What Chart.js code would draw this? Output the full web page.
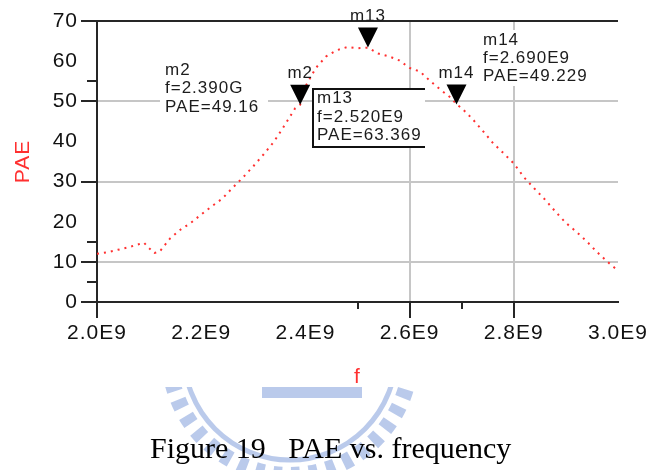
<!DOCTYPE html>
<html>
<head>
<meta charset="utf-8">
<script src="https://cdn.jsdelivr.net/npm/chart.js@4.4.1/dist/chart.umd.min.js"></script>
<style>
  html, body { margin: 0; padding: 0; background: #fff; }
  #wrap { position: relative; width: 652px; height: 470px; }
  #caption {
    position: absolute; left: 150px; top: 433px;
    font: 30px/30px "Liberation Serif", "Times New Roman", serif;
    color: #000; white-space: pre;
  }
</style>
</head>
<body>
<div id="wrap">
  <canvas id="c" width="652" height="470"></canvas>
  <div id="caption">Figure 19   PAE vs. frequency</div>
</div>
<script>
// frequency in units of 1E9
const freq = [2.00, 2.02, 2.04, 2.06, 2.08, 2.09, 2.10, 2.11, 2.12, 2.14, 2.16, 2.18, 2.20, 2.22, 2.24,
  2.26, 2.28, 2.30, 2.32, 2.34, 2.36, 2.38, 2.39, 2.40, 2.42, 2.44, 2.46, 2.48, 2.50, 2.52, 2.54,
  2.56, 2.58, 2.60, 2.62, 2.64, 2.66, 2.68, 2.69, 2.70, 2.72, 2.74, 2.76, 2.78, 2.80, 2.82, 2.84,
  2.86, 2.88, 2.90, 2.92, 2.94, 2.96, 2.98, 3.00];
const pae = [12.0, 12.4, 13.0, 13.6, 14.4, 14.8, 13.4, 12.2, 12.5, 15.8, 18.0, 19.7, 21.8, 23.8, 25.7,
  28.4, 31.0, 33.8, 36.8, 40.0, 44.0, 48.2, 49.16, 53.7, 58.3, 61.2, 62.7, 63.5, 63.2, 63.37, 61.9,
  61.2, 60.2, 58.3, 57.4, 55.0, 52.8, 50.8, 49.23, 48.3, 45.7, 42.7, 39.6, 37.1, 34.5, 31.0, 28.2,
  25.5, 22.5, 19.7, 17.5, 15.1, 12.4, 10.0, 7.8];

const markerNames = ["m2", "m13", "m14"];
const markerFreq = [2.39, 2.52, 2.69];
const markerPae = [49.16, 63.369, 49.229];
const markerFreqText = ["f=2.390G", "f=2.520E9", "f=2.690E9"];
const markerPaeText = ["PAE=49.16", "PAE=63.369", "PAE=49.229"];

const yMajorShown = [0, 10, 30, 50, 70];
const yGridShown = [10, 30, 50];
const yMinor = [5, 15, 55];
const xMajorShown = [2.0, 2.6, 2.8];
const xGridShown = [2.6, 2.8];
const xMinor = [2.5, 2.7];

const dark = "#262626";
const gridGray = "#c6c6c6";
const red = "#ff3030";
const has = (list, v) => list.some(u => Math.abs(u - v) < 1e-6);

function textLines(ctx, lines, x, ys) {
  lines.forEach((t, i) => ctx.fillText(t, x, ys[i]));
}

const annotations = {
  id: "annotations",
  beforeDraw(chart) {
    const ctx = chart.ctx;
    // faint watermark behind the caption
    ctx.save();
    ctx.beginPath();
    ctx.rect(0, 387, chart.width, chart.height - 387);
    ctx.clip();
    const wm = "rgba(130,158,218,0.55)";
    ctx.strokeStyle = wm;
    ctx.lineWidth = 16;
    ctx.setLineDash([9, 9]);
    ctx.beginPath();
    ctx.arc(290, 354, 121, 0, Math.PI * 2);
    ctx.stroke();
    ctx.setLineDash([]);
    ctx.lineWidth = 5;
    ctx.beginPath();
    ctx.arc(290, 354, 106, 0, Math.PI * 2);
    ctx.stroke();
    ctx.fillStyle = wm;
    ctx.fillRect(262, 387, 100, 11);
    ctx.restore();
    ctx.letterSpacing = "1px";
  },
  afterDatasetsDraw(chart) {
    const { ctx, chartArea, scales: { x, y } } = chart;
    ctx.save();
    ctx.letterSpacing = "1px";

    // minor ticks
    ctx.strokeStyle = dark;
    ctx.lineWidth = 2;
    yMinor.forEach(v => {
      const py = Math.round(y.getPixelForValue(v));
      ctx.beginPath();
      ctx.moveTo(chartArea.left - 10, py);
      ctx.lineTo(chartArea.left, py);
      ctx.stroke();
    });
    xMinor.forEach(v => {
      const px = Math.round(x.getPixelForValue(v));
      ctx.beginPath();
      ctx.moveTo(px, chartArea.bottom);
      ctx.lineTo(px, chartArea.bottom + 7);
      ctx.stroke();
    });

    ctx.font = "17px 'Liberation Sans', Arial, sans-serif";
    ctx.textBaseline = "middle";

    // m2 readout
    ctx.fillStyle = "#fff";
    ctx.fillRect(160, 60, 108, 57);
    ctx.fillStyle = "#1c1c1c";
    ctx.textAlign = "left";
    textLines(ctx, [markerNames[0], markerFreqText[0], markerPaeText[0]], 165, [70, 88.5, 107]);

    // m13 readout box
    ctx.fillStyle = "#fff";
    ctx.fillRect(313, 89, 112, 58);
    ctx.strokeStyle = "#111";
    ctx.lineWidth = 2;
    ctx.beginPath();
    ctx.moveTo(425, 89); ctx.lineTo(313, 89); ctx.lineTo(313, 147); ctx.lineTo(425, 147);
    ctx.stroke();
    ctx.fillStyle = "#1c1c1c";
    textLines(ctx, [markerNames[1], markerFreqText[1], markerPaeText[1]], 317, [98, 117, 135]);

    // m14 readout
    ctx.fillStyle = "#fff";
    ctx.fillRect(479, 30, 126, 56);
    ctx.fillStyle = "#1c1c1c";
    textLines(ctx, [markerNames[2], markerFreqText[2], markerPaeText[2]], 483, [40, 58, 76]);

    // marker triangles and names
    ctx.textAlign = "center";
    markerNames.forEach((name, i) => {
      const px = x.getPixelForValue(markerFreq[i]);
      const py = y.getPixelForValue(markerPae[i]);
      ctx.fillStyle = "#000";
      ctx.beginPath();
      ctx.moveTo(px - 10, py - 20);
      ctx.lineTo(px + 10, py - 20);
      ctx.lineTo(px, py);
      ctx.closePath();
      ctx.fill();
      ctx.fillStyle = "#1c1c1c";
      ctx.fillText(name, px, py - 31);
    });
    ctx.restore();
  }
};

const axisFont = { family: "'Liberation Sans', Arial, sans-serif", size: 21 };

new Chart(document.getElementById("c"), {
  type: "line",
  data: {
    datasets: [{
      label: "PAE",
      data: freq.map((f, i) => ({ x: f, y: pae[i] })),
      borderColor: red,
      borderWidth: 2,
      borderDash: [2, 5],
      pointRadius: 0,
      fill: false,
      tension: 0
    }]
  },
  options: {
    responsive: false,
    animation: false,
    layout: { padding: { left: 0, top: 21, right: 34, bottom: 80 } },
    plugins: { legend: { display: false }, tooltip: { enabled: false } },
    scales: {
      x: {
        type: "linear",
        min: 2.0,
        max: 3.0,
        afterFit: s => { s.height = 88; },
        ticks: {
          stepSize: 0.2,
          color: "#111",
          font: axisFont,
          padding: 3,
          maxRotation: 0,
          autoSkip: false,
          callback: v => v.toFixed(1) + "E9"
        },
        grid: {
          lineWidth: 2,
          color: c => has(xGridShown, c.tick.value) ? gridGray : "transparent",
          tickLength: 16,
          tickWidth: 2,
          tickColor: c => has(xMajorShown, c.tick.value) ? dark : "transparent"
        },
        border: { color: dark, width: 2 },
        title: {
          display: true,
          text: "f",
          color: red,
          font: axisFont,
          padding: { top: 0, bottom: 0 }
        }
      },
      y: {
        min: 0,
        max: 70,
        afterFit: s => { s.width = 97; },
        ticks: {
          stepSize: 10,
          color: "#111",
          font: axisFont,
          padding: 3
        },
        grid: {
          lineWidth: 2,
          color: c => c.tick.value === 70 ? dark : (has(yGridShown, c.tick.value) ? gridGray : "transparent"),
          tickLength: 16,
          tickWidth: 2,
          tickColor: c => has(yMajorShown, c.tick.value) ? dark : "transparent"
        },
        border: { color: dark, width: 2 },
        title: {
          display: true,
          text: "PAE",
          color: red,
          font: axisFont,
          padding: { top: 11, bottom: 0 }
        }
      }
    }
  },
  plugins: [annotations]
});
</script>
</body>
</html>
